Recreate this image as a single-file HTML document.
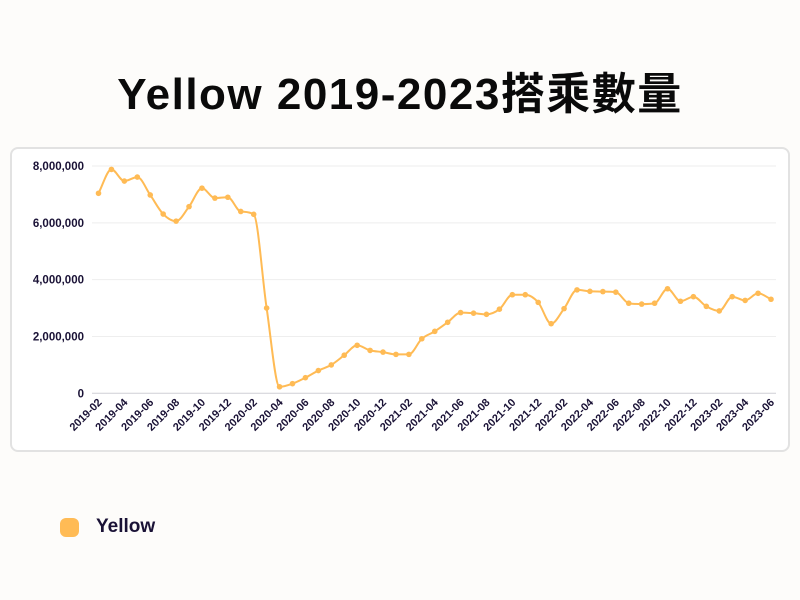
<!DOCTYPE html>
<html><head><meta charset="utf-8">
<style>
body{margin:0;width:800px;height:600px;background:#fdfcfa;font-family:"Liberation Sans","Noto Sans CJK TC",sans-serif;overflow:hidden;position:relative}
#title{position:absolute;top:58px;left:0;width:800px;text-align:center;font-size:44px;font-weight:bold;color:#0a0a0a;letter-spacing:1.5px}
#card{position:absolute;left:10px;top:147px;width:780px;height:305px;border:2px solid #e2e2e2;border-radius:8px;background:#fff;box-sizing:border-box}
svg{position:absolute;left:0;top:0}
#legend{position:absolute;left:60px;top:516px;display:flex;align-items:center}
#legend .sw{width:19px;height:19px;border-radius:6px;background:#ffbb55;margin-right:17px}
#legend span{font-size:19px;font-weight:bold;color:#1a1236}
</style></head><body>
<div id="title">Yellow 2019-2023搭乘數量</div>
<div id="card"></div>
<svg id="chart" width="800" height="600"></svg>
<div id="legend"><div class="sw"></div><span>Yellow</span></div>
<script>
const months=[];
for(let y=2019;y<=2023;y++)for(let m=1;m<=12;m++){if((y===2019&&m<2)||(y===2023&&m>6))continue;months.push(y+'-'+String(m).padStart(2,'0'));}
const values=[7.04,7.88,7.47,7.61,6.98,6.31,6.06,6.57,7.22,6.87,6.90,6.40,6.30,3.00,0.23,0.34,0.55,0.80,1.00,1.34,1.69,1.51,1.45,1.37,1.37,1.92,2.18,2.50,2.84,2.82,2.78,2.96,3.47,3.47,3.20,2.45,2.98,3.64,3.59,3.58,3.56,3.17,3.14,3.17,3.68,3.24,3.40,3.06,2.90,3.40,3.27,3.52,3.31].map(v=>v*1e6);
const yTicks=[0,2000000,4000000,6000000,8000000];
const svg=document.getElementById('chart');const NS='http://www.w3.org/2000/svg';
const x0=98.5,x1=771,y0=393.3,yTop=166,yMax=8000000;
const X=i=>x0+(x1-x0)*i/(months.length-1);
const Y=v=>y0-(y0-yTop)*v/yMax;
function mk(t,a){const e=document.createElementNS(NS,t);for(const k in a)e.setAttribute(k,a[k]);svg.appendChild(e);return e;}
yTicks.forEach(t=>{
 const l=mk('line',{x1:92,x2:776,y1:Y(t),y2:Y(t),stroke:t===0?'#cfcfd6':'#eeeeee','stroke-width':1});
 
 
 const tx=mk('text',{x:84,y:Y(t)+4,'text-anchor':'end','font-size':11.5,'font-weight':'bold',fill:'#1a1236'});
 tx.textContent=t.toLocaleString('en-US');
 
 
});
months.forEach((m,i)=>{
 if(i%2)return;
 const tx=mk('text',{x:X(i)+4,y:403,'text-anchor':'end','font-size':11,'font-weight':'bold',fill:'#1a1236',transform:`rotate(-45 ${X(i)+4} 403)`});
 tx.textContent=m;
 
 
});
const pts=values.map((v,i)=>[X(i),Y(v)]);
// monotone cubic
const n=pts.length,dx=[],sl=[],mt=[];
for(let i=0;i<n-1;i++){dx[i]=pts[i+1][0]-pts[i][0];sl[i]=(pts[i+1][1]-pts[i][1])/dx[i];}
mt[0]=sl[0];mt[n-1]=sl[n-2];
for(let i=1;i<n-1;i++){mt[i]=(sl[i-1]*sl[i]<=0)?0:(sl[i-1]+sl[i])/2;}
for(let i=0;i<n-1;i++){if(sl[i]===0){mt[i]=mt[i+1]=0;continue;}const a=mt[i]/sl[i],b=mt[i+1]/sl[i],s=a*a+b*b;if(s>9){const t=3/Math.sqrt(s);mt[i]=t*a*sl[i];mt[i+1]=t*b*sl[i];}}
let d='M'+pts[0][0]+','+pts[0][1];
for(let i=0;i<n-1;i++){const h=dx[i]/3;d+=` C${pts[i][0]+h},${pts[i][1]+mt[i]*h} ${pts[i+1][0]-h},${pts[i+1][1]-mt[i+1]*h} ${pts[i+1][0]},${pts[i+1][1]}`;}
const path=mk('path',{d:d,fill:'none',stroke:'#ffbb55','stroke-width':2});


pts.forEach(p=>{
 const c=mk('circle',{cx:p[0],cy:p[1],r:2.8,fill:'#ffbb55'});
 
 
});
</script>
</body></html>
